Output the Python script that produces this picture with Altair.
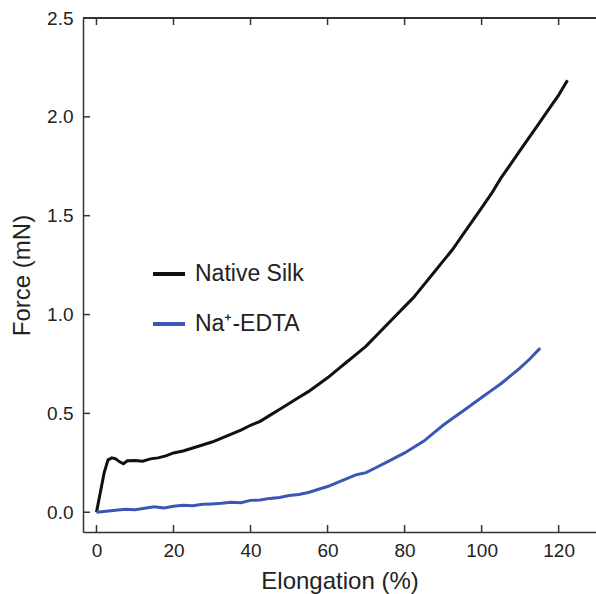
import altair as alt
import pandas as pd

# Native silk
silk_x = [0, 1, 2, 3, 4, 5, 6, 7, 8, 10, 12, 14, 16, 18, 20, 22.5, 25, 27.5, 30, 32.5,
          35, 37.5, 40, 42.5, 45, 47.5, 50, 52.5, 55, 57.5, 60, 62.5, 65, 67.5, 70, 72.5,
          75, 77.5, 80, 82.5, 85, 87.5, 90, 92.5, 95, 97.5, 100, 102.5, 105, 107.5, 110,
          112.5, 115, 117.5, 120, 122.3]
silk_f = [0, 0.10, 0.20, 0.265, 0.275, 0.27, 0.255, 0.245, 0.26, 0.262, 0.258, 0.27, 0.275,
          0.285, 0.30, 0.31, 0.325, 0.34, 0.355, 0.375, 0.395, 0.415, 0.44, 0.46, 0.49, 0.52,
          0.55, 0.58, 0.61, 0.645, 0.68, 0.72, 0.76, 0.80, 0.84, 0.89, 0.94, 0.99, 1.04, 1.09,
          1.15, 1.21, 1.27, 1.33, 1.40, 1.47, 1.54, 1.61, 1.69, 1.76, 1.83, 1.90, 1.97, 2.04,
          2.11, 2.185]

# Na+-EDTA treated
edta_x = [0, 2.5, 5, 7.5, 10, 12.5, 15, 17.5, 20, 22.5, 25, 27.5, 30, 32.5, 35, 37.5, 40,
          42.5, 45, 47.5, 50, 52.5, 55, 57.5, 60, 62.5, 65, 67.5, 70, 72.5, 75, 77.5, 80, 82.5,
          85, 87.5, 90, 92.5, 95, 97.5, 100, 102.5, 105, 107.5, 110, 112.5, 115.2]
edta_f = [0, 0.005, 0.01, 0.015, 0.013, 0.02, 0.028, 0.022, 0.03, 0.035, 0.033, 0.04, 0.042,
          0.045, 0.05, 0.048, 0.06, 0.062, 0.07, 0.075, 0.085, 0.09, 0.10, 0.115, 0.13, 0.15,
          0.17, 0.19, 0.20, 0.225, 0.25, 0.275, 0.30, 0.33, 0.36, 0.40, 0.44, 0.475, 0.51,
          0.545, 0.58, 0.615, 0.65, 0.69, 0.73, 0.775, 0.83]

series_names = ["Native Silk", "Na\u207a-EDTA"]
series_colors = ["#111111", "#3c56b5"]

x_ticks = [0, 20, 40, 60, 80, 100, 120]
y_ticks = [0.0, 0.5, 1.0, 1.5, 2.0, 2.5]

df = pd.concat([
    pd.DataFrame({"elong": silk_x, "force": silk_f, "series": series_names[0], "order": range(len(silk_x))}),
    pd.DataFrame({"elong": edta_x, "force": edta_f, "series": series_names[1], "order": range(len(edta_x))}),
])
xt = pd.DataFrame({"elong": x_ticks})
yt = pd.DataFrame({"force": y_ticks})

W, H = 513, 514
FONT = "Liberation Sans"
AX = "#333333"

xscale = alt.Scale(domain=[-3.5, 129.7], nice=False, zero=False)
yscale = alt.Scale(domain=[-0.1, 2.5], nice=False, zero=False)

xaxis = alt.Axis(values=x_ticks, ticks=False, tickSize=0, grid=False,
                 labelFontSize=19, labelPadding=9, labelFont=FONT, labelColor="#222",
                 title="Elongation (%)", titleFontSize=24, titleFont=FONT,
                 titleFontWeight="normal", titleColor="#222", titlePadding=9,
                 domainColor=AX, domainWidth=1.5)
yaxis = alt.Axis(values=y_ticks, format=".1f", ticks=False, tickSize=0, grid=False,
                 labelFontSize=19, labelPadding=10, labelFont=FONT, labelColor="#222",
                 title="Force (mN)", titleFontSize=24, titleFont=FONT,
                 titleFontWeight="normal", titleColor="#222", titlePadding=12,
                 domainColor=AX, domainWidth=1.5)

lines = alt.Chart(df).mark_line(strokeWidth=3).encode(
    x=alt.X("elong:Q", scale=xscale, axis=xaxis),
    y=alt.Y("force:Q", scale=yscale, axis=yaxis),
    color=alt.Color("series:N", scale=alt.Scale(domain=series_names, range=series_colors),
                    legend=alt.Legend(orient="none", legendX=68, legendY=238, title=None,
                                      symbolType="stroke", symbolSize=1024, symbolStrokeWidth=4,
                                      labelFontSize=23, labelFont=FONT, labelColor="#222",
                                      labelOffset=8, rowPadding=20, padding=0)),
    order="order:Q",
)

top_line = alt.Chart(xt).mark_rule(color=AX, strokeWidth=1.5).encode(
    x=alt.value(0), x2=alt.value(W), y=alt.value(0))

bottom_ticks = alt.Chart(xt).mark_rule(color=AX, strokeWidth=1.5).encode(
    x=alt.X("elong:Q", scale=xscale, axis=xaxis), y=alt.value(H), y2=alt.value(H - 7))
top_ticks = alt.Chart(xt).mark_rule(color=AX, strokeWidth=1.5).encode(
    x=alt.X("elong:Q", scale=xscale, axis=xaxis), y=alt.value(0), y2=alt.value(7))
left_ticks = alt.Chart(yt).mark_rule(color=AX, strokeWidth=1.5).encode(
    y=alt.Y("force:Q", scale=yscale, axis=yaxis), x=alt.value(0), x2=alt.value(7))

chart = alt.layer(lines, top_line, bottom_ticks, top_ticks, left_ticks).properties(
    width=W, height=H,
    padding={"left": 83, "top": 18, "right": 0, "bottom": 62},
    autosize=alt.AutoSizeParams(type="none"),
).configure_view(stroke=None).configure(background="white")

chart.save("out.html", embed_options={"renderer": "svg", "actions": False})
